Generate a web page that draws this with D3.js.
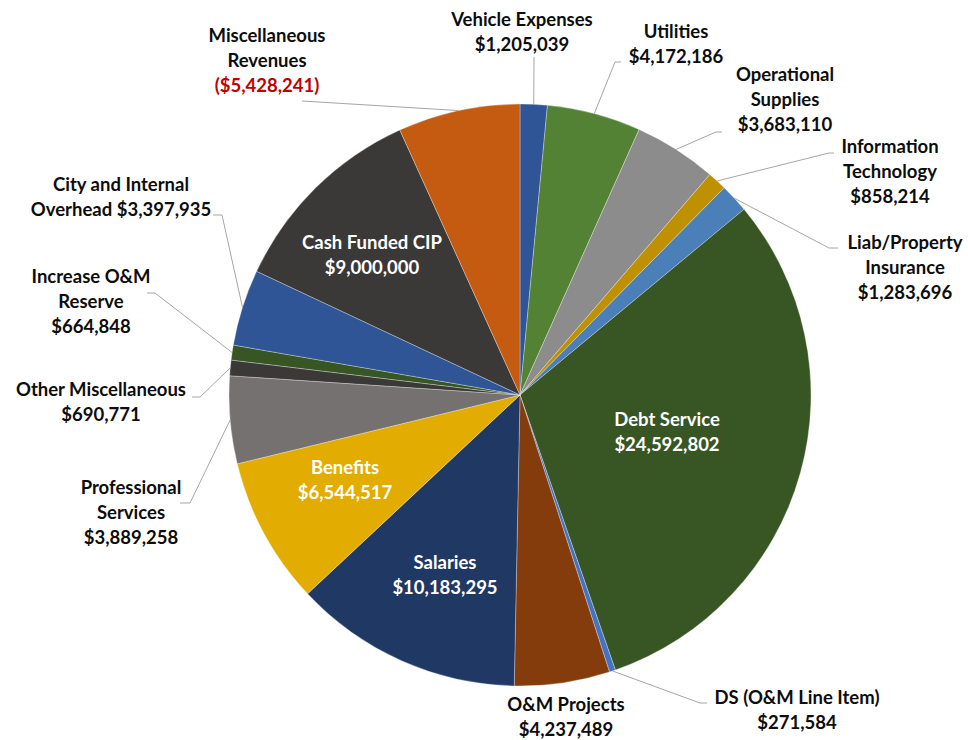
<!DOCTYPE html>
<html>
<head>
<meta charset="utf-8">
<script src="https://cdn.jsdelivr.net/npm/d3@7"></script>
<style>
  body { margin: 0; background: #fff; }
  svg text { font-family: Lato, "Open Sans", sans-serif; font-weight: bold; }
</style>
</head>
<body>
<div id="chart"></div>
<script>
// categories in clockwise order starting at 12 o'clock
const categories = [
    "Vehicle Expenses", "Utilities", "Operational Supplies", "Information Technology",
    "Liab/Property Insurance", "Debt Service", "DS (O&M Line Item)", "O&M Projects",
    "Salaries", "Benefits", "Professional Services", "Other Miscellaneous",
    "Increase O&M Reserve", "City and Internal Overhead", "Cash Funded CIP", "Miscellaneous Revenues"
];
const amounts = [
    1205039, 4172186, 3683110, 858214,
    1283696, 24592802, 271584, 4237489,
    10183295, 6544517, 3889258, 690771,
    664848, 3397935, 9000000, 5428241
];
// misc revenues is shown as a negative amount
const negative = ["Miscellaneous Revenues"];

const sliceColors = [
    "#2f5597", "#548235", "#8c8c8c", "#bf9000",
    "#4a7fb8", "#375623", "#4472c4", "#843c0c",
    "#203864", "#e2ac00", "#767171", "#3b3838",
    "#375623", "#2f5597", "#3b3838", "#c55a11"
];

// label text lines (amount goes on its own last line unless {v} is used)
const labelLines = {
    "Vehicle Expenses": ["Vehicle Expenses"],
    "Utilities": ["Utilities"],
    "Operational Supplies": ["Operational", "Supplies"],
    "Information Technology": ["Information", "Technology"],
    "Liab/Property Insurance": ["Liab/Property", "Insurance"],
    "Debt Service": ["Debt Service"],
    "DS (O&M Line Item)": ["DS (O&M Line Item)"],
    "O&M Projects": ["O&M Projects"],
    "Salaries": ["Salaries"],
    "Benefits": ["Benefits"],
    "Professional Services": ["Professional", "Services"],
    "Other Miscellaneous": ["Other Miscellaneous"],
    "Increase O&M Reserve": ["Increase O&M", "Reserve"],
    "City and Internal Overhead": ["City and Internal", "Overhead {v}"],
    "Cash Funded CIP": ["Cash Funded CIP"],
    "Miscellaneous Revenues": ["Miscellaneous", "Revenues"]
};

const width = 968, height = 740;
const cx = 520, cy = 395, radius = 291;

// label layout: x,y = center of first line; tick = leader start near the label
const layout = {
    "Vehicle Expenses": { x: 522, y: 20, tick: [[534, 57]] },
    "Utilities": { x: 676, y: 32, tick: [[621, 62], [615, 62]] },
    "Operational Supplies": { x: 785, y: 75, tick: [[722, 132], [716, 132]] },
    "Information Technology": { x: 890, y: 147, tick: [[834, 153], [829, 153]] },
    "Liab/Property Insurance": { x: 905, y: 243, tick: [[838, 248], [829, 248]] },
    "Debt Service": { x: 667, y: 420, inside: true },
    "DS (O&M Line Item)": { x: 797, y: 698, tick: [[707, 703], [700, 703]] },
    "O&M Projects": { x: 566, y: 705 },
    "Salaries": { x: 445, y: 563, inside: true },
    "Benefits": { x: 345, y: 468, inside: true },
    "Professional Services": { x: 131, y: 488, tick: [[180, 503], [190, 503]] },
    "Other Miscellaneous": { x: 101, y: 390, tick: [[192, 397], [200, 397]] },
    "Increase O&M Reserve": { x: 91, y: 277, tick: [[147, 293], [155, 293]] },
    "City and Internal Overhead": { x: 121, y: 185, tick: [[213, 215], [222, 215]] },
    "Cash Funded CIP": { x: 372, y: 243, inside: true },
    "Miscellaneous Revenues": { x: 267, y: 36, tick: [[302, 101]] }
};

const fmt = d3.format("$,");
const lineH = 25;

const svg = d3.select("#chart").append("svg")
    .attr("width", width)
    .attr("height", height);

const data = categories.map((c, i) => ({ name: c, value: amounts[i], color: sliceColors[i] }));

const pie = d3.pie().sort(null).value(d => d.value);
const arc = d3.arc().innerRadius(0).outerRadius(radius);
const arcs = pie(data);

const g = svg.append("g").attr("transform", `translate(${cx},${cy})`);

g.selectAll("path.slice")
    .data(arcs)
    .join("path")
    .attr("class", "slice")
    .attr("d", arc)
    .attr("fill", d => d.data.color)
    .attr("stroke", "#ffffff")
    .attr("stroke-opacity", 0.6)
    .attr("stroke-width", 0.5);

// leader lines
arcs.forEach(a => {
    const lay = layout[a.data.name];
    if (!lay.tick) return;
    const mid = (a.startAngle + a.endAngle) / 2;
    const edge = [cx + radius * Math.sin(mid), cy - radius * Math.cos(mid)];
    const pts = lay.tick.concat([edge]);
    svg.append("path")
        .attr("d", d3.line()(pts))
        .attr("fill", "none")
        .attr("stroke", "#a6a6a6")
        .attr("stroke-width", 1);
});

// labels
arcs.forEach(a => {
    const name = a.data.name;
    const lay = layout[name];
    const isNeg = negative.includes(name);
    const valueText = isNeg ? "(" + fmt(a.data.value) + ")" : fmt(a.data.value);
    let lines = labelLines[name].map(l => ({ text: l.replace("{v}", valueText), red: false }));
    if (!labelLines[name].some(l => l.includes("{v}"))) {
        lines.push({ text: valueText, red: isNeg });
    }
    const t = svg.append("text")
        .attr("text-anchor", "middle")
        .attr("font-size", 18.5)
        .attr("fill", lay.inside ? "#ffffff" : "#0d0d0d");
    lines.forEach((l, i) => {
        t.append("tspan")
            .attr("x", lay.x)
            .attr("y", lay.y + i * lineH)
            .attr("dy", "0.35em")
            .attr("fill", l.red ? "#c00000" : null)
            .text(l.text);
    });
});
</script>
</body>
</html>
